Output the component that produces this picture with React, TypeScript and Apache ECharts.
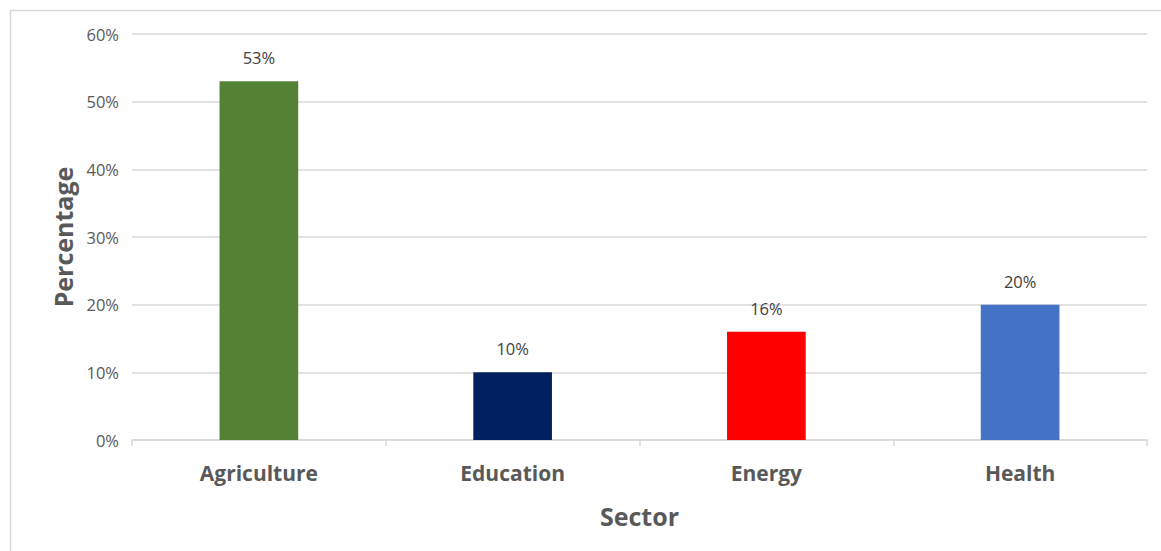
import React, { useEffect, useRef } from "react";
import * as echarts from "echarts";

const categories = ["Agriculture", "Education", "Energy", "Health"];
const values = [53, 10, 16, 20];
const barColors = ["#548235", "#002060", "#FF0000", "#4472C4"];
const yTicks = [0, 10, 20, 30, 40, 50, 60];

export default function App() {
  const ref = useRef<HTMLDivElement>(null);
  useEffect(() => {
    if (!ref.current) return;
    const chart = echarts.init(ref.current, undefined, { renderer: "svg" });
    chart.setOption({
      animation: false,
      backgroundColor: "#ffffff",
      textStyle: { fontFamily: "Open Sans" },
      graphic: [
        {
          type: "rect",
          shape: { x: 10.5, y: 10.5, width: 1300, height: 700 },
          style: { fill: "none", stroke: "#d9d9d9", lineWidth: 1.5 },
          silent: true,
        },
      ],
      grid: { left: 132, right: 14, top: 34, bottom: 111 },
      xAxis: {
        type: "category",
        data: categories,
        name: "Sector",
        nameLocation: "middle",
        nameGap: 63,
        nameTextStyle: { fontSize: 25, fontWeight: "bold", color: "#595959" },
        axisLine: { lineStyle: { color: "#d9d9d9", width: 1.5 } },
        axisTick: { show: true, length: 6, lineStyle: { color: "#d9d9d9", width: 1.5 } },
        axisLabel: { fontSize: 21, fontWeight: "bold", color: "#595959", margin: 22 },
      },
      yAxis: {
        type: "value",
        min: yTicks[0],
        max: yTicks[yTicks.length - 1],
        interval: 10,
        name: "Percentage",
        nameLocation: "middle",
        nameGap: 56,
        nameTextStyle: { fontSize: 25, fontWeight: "bold", color: "#595959" },
        axisLine: { show: false },
        axisTick: { show: false },
        splitLine: { lineStyle: { color: "#d9d9d9", width: 1.5 } },
        axisLabel: { fontSize: 16.5, color: "#595959", margin: 13, formatter: "{value}%" },
      },
      series: [
        {
          type: "bar",
          barWidth: "31%",
          data: values.map((v, i) => ({ value: v, itemStyle: { color: barColors[i] } })),
          label: {
            show: true,
            position: "top",
            distance: 15,
            fontSize: 16.5,
            color: "#404040",
            formatter: "{c}%",
          },
        },
      ],
    });
    return () => chart.dispose();
  }, []);
  return (
    <div
      ref={ref}
      style={{ position: "fixed", left: 0, top: 0, width: 1161, height: 551 }}
    />
  );
}
